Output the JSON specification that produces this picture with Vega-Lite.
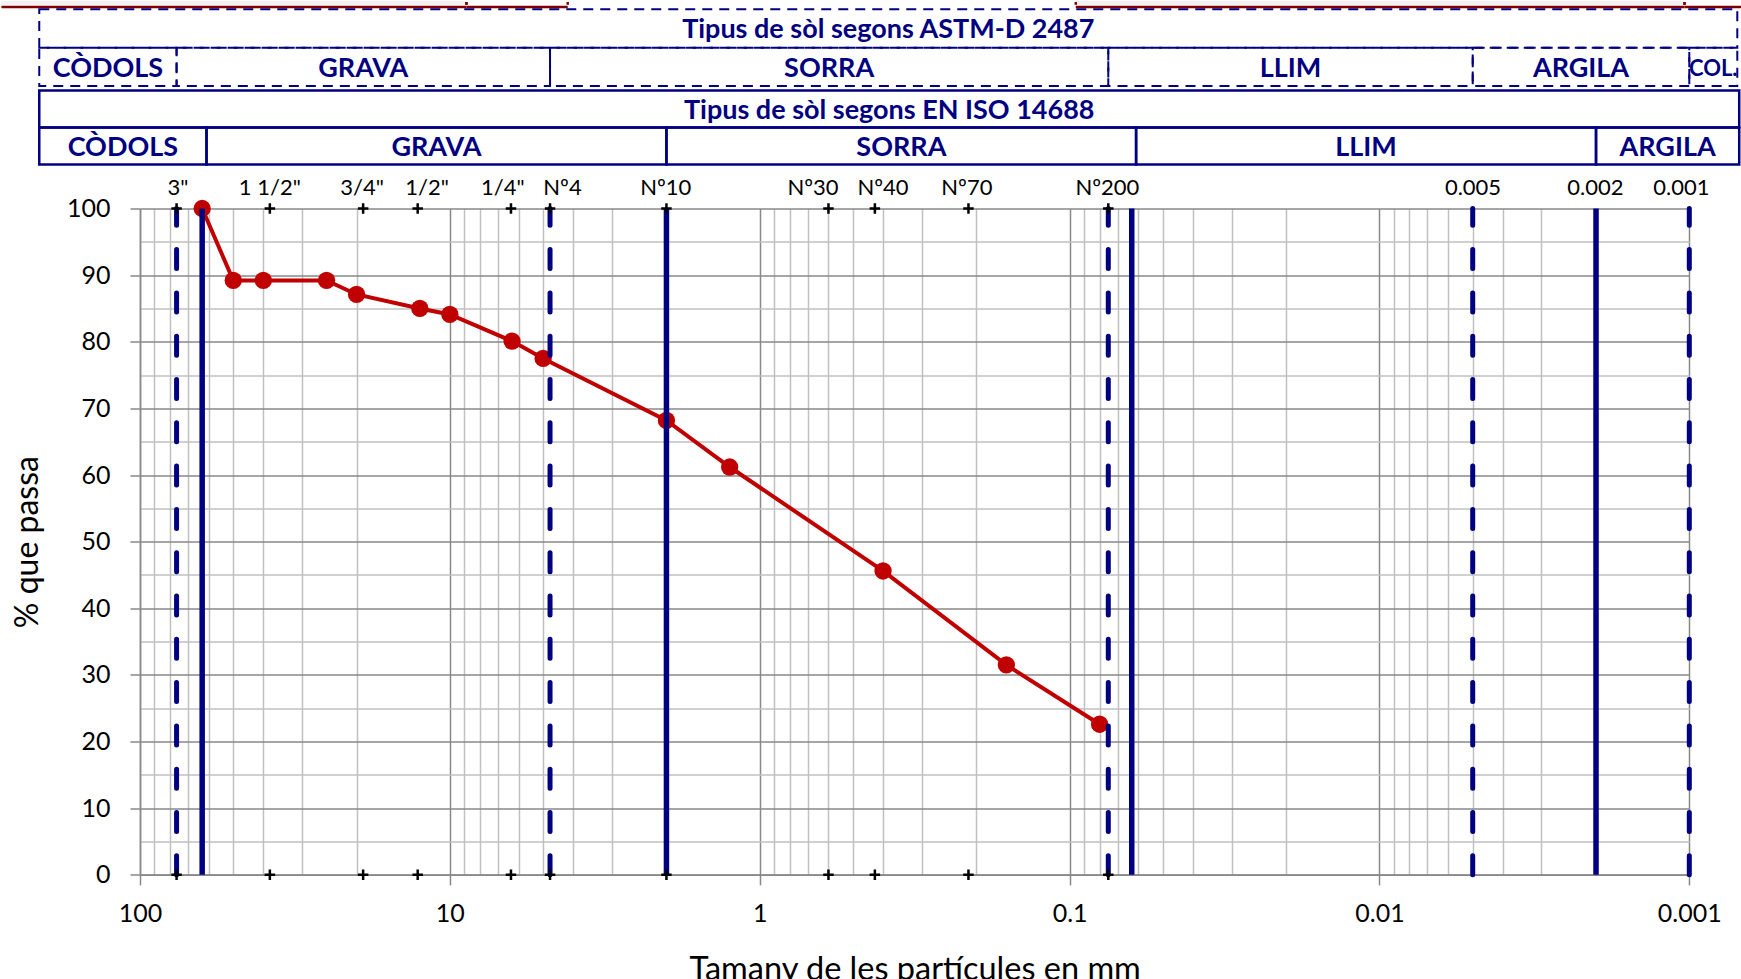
{
  "$schema": "https://vega.github.io/schema/vega-lite/v6.json",
  "background": "white",
  "autosize": {"type": "pad"},
  "padding": {"left": 0, "top": 0, "right": 0, "bottom": 0},
  "config": {"view": {"stroke": null}, "font": "Lato"},
  "datasets": {
    "topboxes": [
      {"from": 279.9, "to": 8.84, "shade": "yes"},
      {"from": 8.84, "to": 4.165, "shade": "no"},
      {"from": 0.0955, "to": 0.001036, "shade": "yes"},
      {"from": 0.001036, "to": 0.00066, "shade": "no"}
    ],
    "astm": [
      {"part": "t", "name": "Tipus de sòl segons ASTM-D 2487", "from": 211.4, "to": 0.0007, "mid": 0.3847},
      {"part": "c", "name": "CÒDOLS", "from": 211.4, "to": 76.2, "mid": 126.9},
      {"part": "c", "name": "GRAVA", "from": 76.2, "to": 4.75, "mid": 19.03},
      {"part": "c", "name": "SORRA", "from": 4.75, "to": 0.075, "mid": 0.597},
      {"part": "c", "name": "LLIM", "from": 0.075, "to": 0.005, "mid": 0.01936},
      {"part": "c", "name": "ARGILA", "from": 0.005, "to": 0.001, "mid": 0.002236},
      {"part": "c", "name": "COL.", "from": 0.001, "to": 0.0007, "mid": 0.000837}
    ],
    "iso": [
      {"part": "t", "name": "Tipus de sòl segons EN ISO 14688", "from": 211.4, "to": 0.00069, "mid": 0.382},
      {"part": "c", "name": "CÒDOLS", "from": 211.4, "to": 61, "mid": 113.6},
      {"part": "c", "name": "GRAVA", "from": 61, "to": 2, "mid": 11.05},
      {"part": "c", "name": "SORRA", "from": 2, "to": 0.061, "mid": 0.349},
      {"part": "c", "name": "LLIM", "from": 0.061, "to": 0.002, "mid": 0.01105},
      {"part": "c", "name": "ARGILA", "from": 0.002, "to": 0.00069, "mid": 0.001175}
    ],
    "sieves": [
      {"label": "3\"", "size": 76.2, "labelAt": 75.4, "plus": true},
      {"label": "1 1/2\"", "size": 38.1, "labelAt": 38.1, "plus": true},
      {"label": "3/4\"", "size": 19.05, "labelAt": 19.2, "plus": true},
      {"label": "1/2\"", "size": 12.7, "labelAt": 11.85, "plus": true},
      {"label": "1/4\"", "size": 6.35, "labelAt": 6.75, "plus": true},
      {"label": "Nº4", "size": 4.75, "labelAt": 4.33, "plus": true},
      {"label": "Nº10", "size": 2.0, "labelAt": 2.01, "plus": true},
      {"label": "Nº30", "size": 0.6, "labelAt": 0.673, "plus": true},
      {"label": "Nº40", "size": 0.425, "labelAt": 0.4, "plus": true},
      {"label": "Nº70", "size": 0.212, "labelAt": 0.2146, "plus": true},
      {"label": "Nº200", "size": 0.075, "labelAt": 0.0755, "plus": true},
      {"label": "0.005", "size": 0.005, "labelAt": 0.00499, "plus": false},
      {"label": "0.002", "size": 0.002, "labelAt": 0.00201, "plus": false},
      {"label": "0.001", "size": 0.001, "labelAt": 0.00106, "plus": false}
    ],
    "limits": [
      {"std": "ASTM", "size": 76.2},
      {"std": "ASTM", "size": 4.75},
      {"std": "ASTM", "size": 0.075},
      {"std": "ASTM", "size": 0.005},
      {"std": "ASTM", "size": 0.001},
      {"std": "ISO", "size": 63},
      {"std": "ISO", "size": 2},
      {"std": "ISO", "size": 0.063},
      {"std": "ISO", "size": 0.002}
    ],
    "curve": [
      {"size": 63, "pass": 100},
      {"size": 50, "pass": 89.2},
      {"size": 40, "pass": 89.2},
      {"size": 25, "pass": 89.2},
      {"size": 20, "pass": 87.1},
      {"size": 12.5, "pass": 85.0},
      {"size": 10, "pass": 84.1},
      {"size": 6.3, "pass": 80.1},
      {"size": 5, "pass": 77.5},
      {"size": 2, "pass": 68.2},
      {"size": 1.25, "pass": 61.2},
      {"size": 0.4, "pass": 45.6},
      {"size": 0.16, "pass": 31.5},
      {"size": 0.08, "pass": 22.6}
    ]
  },
  "spacing": 10.5,
  "bounds": "full",
  "resolve": {"scale": {"x": "independent", "y": "independent"}},
  "vconcat": [
    {
      "spacing": 4.3,
      "bounds": "flush",
      "resolve": {"scale": {"x": "independent", "y": "independent"}},
      "vconcat": [
        {
          "width": 1549.3,
          "height": 2.8,
          "data": {"name": "topboxes"},
          "layer": [
            {
              "mark": {"type": "rect", "yOffset": -1.2, "y2Offset": 1.0},
              "encoding": {
                "x": {"field": "from", "type": "quantitative", "scale": {"type": "log", "domain": [0.001, 100], "reverse": true, "nice": false}, "axis": null},
                "x2": {"field": "to"},
                "fill": {"condition": {"test": "datum.shade === 'yes'", "value": "#F2F2F2"}, "value": "white"}
              }
            },
            {
              "mark": {"type": "rule", "color": "#800000", "strokeWidth": 2.4, "yOffset": 2.2},
              "encoding": {
                "x": {"field": "from", "type": "quantitative", "scale": {"type": "log", "domain": [0.001, 100], "reverse": true, "nice": false}, "axis": null},
                "x2": {"field": "to"},
                "y": {"value": "height"}
              }
            },
            {
              "transform": [{"filter": "datum.from < 100"}],
              "mark": {"type": "rule", "color": "#800000", "strokeWidth": 2.4, "y2Offset": 3.3},
              "encoding": {
                "x": {"field": "from", "type": "quantitative", "scale": {"type": "log", "domain": [0.001, 100], "reverse": true, "nice": false}, "axis": null}
              }
            },
            {
              "transform": [{"filter": "datum.to > 0.001"}],
              "mark": {"type": "rule", "color": "#800000", "strokeWidth": 2.4, "y2Offset": 3.3},
              "encoding": {
                "x": {"field": "to", "type": "quantitative", "scale": {"type": "log", "domain": [0.001, 100], "reverse": true, "nice": false}, "axis": null}
              }
            }
          ]
        },
        {
          "width": 1549.3,
          "height": 76.7,
          "data": {"name": "astm"},
          "layer": [
            {
              "mark": {"type": "rect", "fill": "transparent", "stroke": "#000080", "strokeWidth": 2, "strokeDash": [10, 7]},
              "encoding": {
                "x": {"field": "from", "type": "quantitative", "scale": {"type": "log", "domain": [0.001, 100], "reverse": true, "nice": false}, "axis": null},
                "x2": {"field": "to"},
                "y": {"field": "part", "type": "nominal", "scale": {"domain": ["t", "c"], "paddingInner": 0, "paddingOuter": 0}, "axis": null}
              }
            },
            {
              "mark": {"type": "text", "font": "Lato", "fontWeight": "bold", "color": "#000080", "baseline": "middle", "align": "center", "dy": 2},
              "encoding": {
                "x": {"field": "mid", "type": "quantitative", "scale": {"type": "log", "domain": [0.001, 100], "reverse": true, "nice": false}, "axis": null},
                "y": {"field": "part", "type": "nominal", "scale": {"domain": ["t", "c"], "paddingInner": 0, "paddingOuter": 0}, "axis": null},
                "text": {"field": "name"},
                "size": {"condition": {"test": "datum.name === 'COL.'", "value": 22}, "value": 27}
              }
            }
          ]
        },
        {
          "width": 1549.3,
          "height": 74,
          "data": {"name": "iso"},
          "layer": [
            {
              "mark": {"type": "rect", "fill": "transparent", "stroke": "#000080", "strokeWidth": 2.5},
              "encoding": {
                "x": {"field": "from", "type": "quantitative", "scale": {"type": "log", "domain": [0.001, 100], "reverse": true, "nice": false}, "axis": null},
                "x2": {"field": "to"},
                "y": {"field": "part", "type": "nominal", "scale": {"domain": ["t", "c"], "paddingInner": 0, "paddingOuter": 0}, "axis": null}
              }
            },
            {
              "mark": {"type": "text", "font": "Lato", "fontWeight": "bold", "fontSize": 27, "color": "#000080", "baseline": "middle", "align": "center", "dy": 2},
              "encoding": {
                "x": {"field": "mid", "type": "quantitative", "scale": {"type": "log", "domain": [0.001, 100], "reverse": true, "nice": false}, "axis": null},
                "y": {"field": "part", "type": "nominal", "scale": {"domain": ["t", "c"], "paddingInner": 0, "paddingOuter": 0}, "axis": null},
                "text": {"field": "name"}
              }
            }
          ]
        }
      ]
    },
    {
      "width": 1549.3,
      "height": 666.3,
      "resolve": {"axis": {"x": "independent", "y": "independent"}},
      "layer": [
        {
          "data": {"name": "curve"},
          "mark": {"type": "line", "color": "#C00000", "strokeWidth": 4},
          "encoding": {
            "x": {
              "field": "size", "type": "quantitative",
              "scale": {"type": "log", "domain": [0.001, 100], "reverse": true, "nice": false},
              "axis": {
                "values": [100, 10, 1, 0.1, 0.01, 0.001], "format": "~g",
                "grid": true, "gridColor": "#888888", "gridWidth": 1.5,
                "tickSize": 10, "tickColor": "#888888", "tickWidth": 1.5,
                "domainColor": "#888888", "domainWidth": 1.5,
                "labelFont": "Lato", "labelFontSize": 25, "labelColor": "black", "labelPadding": 17,
                "labelFlush": false, "labelOverlap": false,
                "title": "Tamany de les partícules en mm", "titleFont": "Lato", "titleFontSize": 32.5,
                "titleFontWeight": "normal", "titleColor": "black", "titlePadding": 26.5
              }
            },
            "y": {
              "field": "pass", "type": "quantitative",
              "scale": {"domain": [0, 100], "nice": false},
              "axis": {
                "values": [0, 10, 20, 30, 40, 50, 60, 70, 80, 90, 100],
                "grid": true, "gridColor": "#888888", "gridWidth": 1.5,
                "tickSize": 10, "tickColor": "#888888", "tickWidth": 1.5,
                "domainColor": "#888888", "domainWidth": 1.5,
                "labelFont": "Lato", "labelFontSize": 25, "labelColor": "black", "labelPadding": 20,
                "title": "% que passa", "titleFont": "Lato", "titleFontSize": 32,
                "titleFontWeight": "normal", "titleColor": "black", "titlePadding": 22
              }
            }
          }
        },
        {
          "data": {"name": "curve"},
          "mark": {"type": "point", "filled": true, "color": "#C00000", "size": 300, "opacity": 1},
          "encoding": {
            "x": {"field": "size", "type": "quantitative", "scale": {"type": "log", "domain": [0.001, 100], "reverse": true, "nice": false}, "axis": null},
            "y": {"field": "pass", "type": "quantitative", "scale": {"domain": [0, 100], "nice": false}, "axis": null}
          }
        },
        {
          "data": {"name": "limits"},
          "transform": [{"filter": "datum.std === 'ASTM'"}],
          "mark": {"type": "rule", "color": "#000080", "strokeWidth": 5, "strokeDash": [19, 24.3], "strokeCap": "round"},
          "encoding": {
            "x": {"field": "size", "type": "quantitative", "scale": {"type": "log", "domain": [0.001, 100], "reverse": true, "nice": false}, "axis": null},
            "y": {"datum": 0, "type": "quantitative", "scale": {"domain": [0, 100], "nice": false}, "axis": null},
            "y2": {"datum": 100}
          }
        },
        {
          "data": {"name": "limits"},
          "transform": [{"filter": "datum.std === 'ISO'"}],
          "mark": {"type": "rule", "color": "#000080", "strokeWidth": 5.5},
          "encoding": {
            "x": {"field": "size", "type": "quantitative", "scale": {"type": "log", "domain": [0.001, 100], "reverse": true, "nice": false}, "axis": null},
            "y": {"datum": 0, "type": "quantitative", "scale": {"domain": [0, 100], "nice": false}, "axis": null},
            "y2": {"datum": 100}
          }
        },
        {
          "data": {"name": "sieves"},
          "transform": [{"filter": "datum.plus"}],
          "mark": {"type": "point", "shape": "M-1,0L1,0M0,-1L0,1", "filled": false, "stroke": "black", "strokeWidth": 2.5, "size": 110, "opacity": 1},
          "encoding": {
            "x": {
              "field": "size", "type": "quantitative",
              "scale": {"type": "log", "domain": [0.001, 100], "reverse": true, "nice": false},
              "axis": {
                "values": [90, 80, 70, 60, 50, 40, 30, 20, 9, 8, 7, 6, 5, 4, 3, 2, 0.9, 0.8, 0.7, 0.6, 0.5, 0.4, 0.3, 0.2, 0.09, 0.08, 0.07, 0.06, 0.05, 0.04, 0.03, 0.02, 0.009, 0.008, 0.007, 0.006, 0.005, 0.004, 0.003, 0.002],
                "grid": true, "gridColor": "#C0C0C0", "gridWidth": 1.5,
                "ticks": false, "labels": false, "domain": false, "title": null
              }
            },
            "y": {
              "datum": 100, "type": "quantitative",
              "scale": {"domain": [0, 100], "nice": false},
              "axis": {
                "values": [5, 15, 25, 35, 45, 55, 65, 75, 85, 95],
                "grid": true, "gridColor": "#C0C0C0", "gridWidth": 1.5,
                "ticks": false, "labels": false, "domain": false, "title": null
              }
            }
          }
        },
        {
          "data": {"name": "sieves"},
          "transform": [{"filter": "datum.plus"}],
          "mark": {"type": "point", "shape": "M-1,0L1,0M0,-1L0,1", "filled": false, "stroke": "black", "strokeWidth": 2.5, "size": 110, "opacity": 1},
          "encoding": {
            "x": {"field": "size", "type": "quantitative", "scale": {"type": "log", "domain": [0.001, 100], "reverse": true, "nice": false}, "axis": null},
            "y": {"datum": 0, "type": "quantitative", "scale": {"domain": [0, 100], "nice": false}, "axis": null}
          }
        },
        {
          "data": {"name": "sieves"},
          "mark": {"type": "text", "font": "Lato", "fontSize": 22, "color": "black", "baseline": "alphabetic", "align": "center", "dy": -13.7},
          "encoding": {
            "x": {"field": "labelAt", "type": "quantitative", "scale": {"type": "log", "domain": [0.001, 100], "reverse": true, "nice": false}, "axis": null},
            "y": {"datum": 100, "type": "quantitative", "scale": {"domain": [0, 100], "nice": false}, "axis": null},
            "text": {"field": "label"}
          }
        }
      ]
    }
  ]
}
